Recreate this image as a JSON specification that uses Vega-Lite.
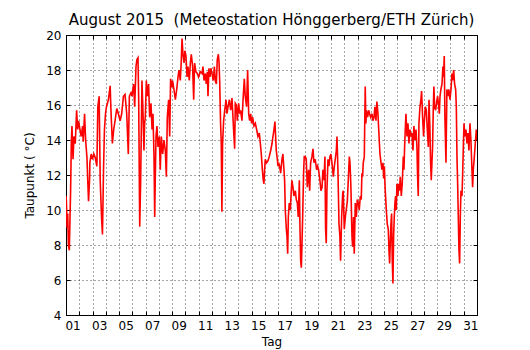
{
  "$schema": "https://vega.github.io/schema/vega-lite/v6.json",
  "autosize": "none",
  "width": 411,
  "height": 280,
  "padding": {"left": 66, "top": 35, "right": 53, "bottom": 35},
  "background": "white",
  "config": {
    "view": {"stroke": "#000", "strokeWidth": 1},
    "font": "DejaVu Sans",
    "axis": {"labelFont": "DejaVu Sans", "titleFont": "DejaVu Sans", "labelColor": "#000", "titleColor": "#000", "tickColor": "#000", "domain": false, "titleFontWeight": "normal"}
  },
  "title": {"text": "August 2015 \u00a0(Meteostation Hönggerberg/ETH Zürich)", "font": "DejaVu Sans", "fontSize": 15, "fontWeight": "normal", "color": "#000", "anchor": "middle", "offset": 1},
  "data": {"values": [
    {"d":1.0,"v":10.8},{"d":1.03,"v":10.5},{"d":1.08,"v":9.0},{"d":1.13,"v":9.8},{"d":1.18,"v":8.0},{"d":1.25,"v":7.7},{"d":1.30,"v":9.5},{"d":1.35,"v":11.2},{"d":1.40,"v":13.8},{"d":1.45,"v":14.8},{"d":1.53,"v":12.9},{"d":1.60,"v":14.2},{"d":1.70,"v":13.8},{"d":1.80,"v":15.7},{"d":1.88,"v":14.6},{"d":1.95,"v":15.1},{"d":2.05,"v":14.6},
    {"d":2.15,"v":14.2},{"d":2.25,"v":14.8},{"d":2.30,"v":13.9},{"d":2.40,"v":15.5},{"d":2.48,"v":14.0},{"d":2.58,"v":13.0},{"d":2.65,"v":11.5},{"d":2.70,"v":10.5},{"d":2.78,"v":11.8},{"d":2.80,"v":12.7},{"d":2.90,"v":13.2},{"d":3.00,"v":12.9},
    {"d":3.10,"v":13.2},{"d":3.20,"v":13.0},{"d":3.33,"v":12.5},{"d":3.40,"v":15.9},{"d":3.50,"v":16.5},{"d":3.58,"v":11.7},{"d":3.68,"v":9.6},{"d":3.75,"v":8.6},{"d":3.83,"v":12.3},{"d":3.90,"v":14.6},{"d":3.98,"v":15.5},
    {"d":4.05,"v":15.9},{"d":4.20,"v":16.3},{"d":4.33,"v":17.1},{"d":4.40,"v":15.5},{"d":4.50,"v":13.8},{"d":4.60,"v":14.6},{"d":4.70,"v":15.1},{"d":4.83,"v":15.8},{"d":4.95,"v":15.5},
    {"d":5.08,"v":15.1},{"d":5.20,"v":15.5},{"d":5.33,"v":16.5},{"d":5.45,"v":16.6},{"d":5.58,"v":15.5},{"d":5.70,"v":13.2},{"d":5.78,"v":16.5},{"d":5.90,"v":16.7},{"d":5.98,"v":16.5},
    {"d":6.10,"v":17.2},{"d":6.18,"v":15.9},{"d":6.28,"v":18.2},{"d":6.35,"v":18.6},{"d":6.43,"v":18.7},{"d":6.48,"v":16.5},{"d":6.56,"v":9.05},{"d":6.63,"v":11.7},{"d":6.73,"v":17.4},{"d":6.81,"v":15.5},{"d":6.88,"v":13.4},{"d":6.93,"v":14.95},{"d":6.98,"v":15.3},
    {"d":7.06,"v":17.4},{"d":7.13,"v":16.5},{"d":7.23,"v":17.2},{"d":7.31,"v":15.3},{"d":7.41,"v":16.1},{"d":7.49,"v":14.6},{"d":7.56,"v":15.5},{"d":7.64,"v":13.0},{"d":7.69,"v":9.6},{"d":7.74,"v":12.1},{"d":7.79,"v":14.2},{"d":7.86,"v":14.8},{"d":7.94,"v":13.6},
    {"d":8.04,"v":14.2},{"d":8.11,"v":12.3},{"d":8.19,"v":14.2},{"d":8.29,"v":13.2},{"d":8.39,"v":14.0},{"d":8.49,"v":13.4},{"d":8.57,"v":11.9},{"d":8.64,"v":15.3},{"d":8.74,"v":16.3},{"d":8.82,"v":14.2},{"d":8.89,"v":17.5},{"d":8.97,"v":17.0},
    {"d":9.04,"v":17.4},{"d":9.14,"v":16.9},{"d":9.25,"v":16.3},{"d":9.35,"v":16.9},{"d":9.45,"v":17.6},{"d":9.52,"v":18.0},{"d":9.62,"v":17.4},{"d":9.70,"v":18.6},{"d":9.75,"v":19.8},{"d":9.82,"v":18.95},{"d":9.90,"v":18.4},{"d":9.97,"v":19.1},
    {"d":10.05,"v":18.8},{"d":10.13,"v":17.6},{"d":10.20,"v":18.2},{"d":10.30,"v":17.4},{"d":10.38,"v":18.4},{"d":10.45,"v":18.9},{"d":10.55,"v":18.2},{"d":10.63,"v":16.3},{"d":10.70,"v":18.4},{"d":10.80,"v":17.9},{"d":10.90,"v":17.8},{"d":11.0,"v":17.6},
    {"d":11.13,"v":17.9},{"d":11.26,"v":17.8},{"d":11.33,"v":18.2},{"d":11.41,"v":17.4},{"d":11.51,"v":17.8},{"d":11.58,"v":17.2},{"d":11.66,"v":17.9},{"d":11.71,"v":16.5},{"d":11.78,"v":18.1},{"d":11.86,"v":17.6},{"d":11.93,"v":18.1},
    {"d":12.01,"v":17.8},{"d":12.11,"v":17.4},{"d":12.19,"v":18.2},{"d":12.26,"v":17.4},{"d":12.34,"v":17.2},{"d":12.41,"v":18.6},{"d":12.49,"v":18.9},{"d":12.54,"v":18.5},{"d":12.59,"v":17.4},{"d":12.66,"v":14.95},{"d":12.71,"v":13.8},{"d":12.76,"v":9.9},{"d":12.81,"v":13.8},{"d":12.89,"v":15.1},{"d":12.97,"v":15.7},
    {"d":13.07,"v":16.3},{"d":13.14,"v":15.5},{"d":13.22,"v":15.9},{"d":13.32,"v":16.3},{"d":13.42,"v":15.7},{"d":13.52,"v":16.4},{"d":13.64,"v":14.6},{"d":13.72,"v":13.5},{"d":13.77,"v":16.1},{"d":13.85,"v":16.0},{"d":13.92,"v":15.1},
    {"d":14.02,"v":16.1},{"d":14.10,"v":15.5},{"d":14.17,"v":15.7},{"d":14.27,"v":15.1},{"d":14.37,"v":16.5},{"d":14.45,"v":17.5},{"d":14.52,"v":16.5},{"d":14.62,"v":15.9},{"d":14.70,"v":18.0},{"d":14.78,"v":15.5},{"d":14.85,"v":15.1},{"d":14.93,"v":15.5},{"d":15.0,"v":14.95},
    {"d":15.08,"v":15.3},{"d":15.18,"v":14.8},{"d":15.28,"v":14.95},{"d":15.38,"v":14.6},{"d":15.48,"v":14.2},{"d":15.58,"v":14.4},{"d":15.66,"v":13.8},{"d":15.73,"v":13.2},{"d":15.81,"v":12.3},{"d":15.88,"v":11.7},{"d":15.93,"v":11.5},{"d":15.98,"v":12.3},
    {"d":16.03,"v":12.9},{"d":16.13,"v":12.7},{"d":16.23,"v":12.8},{"d":16.33,"v":13.05},{"d":16.44,"v":13.4},{"d":16.54,"v":13.8},{"d":16.61,"v":14.2},{"d":16.69,"v":14.6},{"d":16.76,"v":15.05},{"d":16.81,"v":14.2},{"d":16.86,"v":13.4},{"d":16.94,"v":12.9},{"d":16.99,"v":12.5},
    {"d":17.04,"v":12.7},{"d":17.11,"v":12.5},{"d":17.19,"v":12.1},{"d":17.29,"v":12.9},{"d":17.36,"v":13.2},{"d":17.44,"v":12.3},{"d":17.49,"v":11.7},{"d":17.54,"v":10.0},{"d":17.62,"v":8.9},{"d":17.67,"v":8.5},{"d":17.72,"v":7.5},{"d":17.77,"v":9.6},{"d":17.84,"v":10.4},{"d":17.92,"v":10.0},{"d":17.97,"v":10.8},
    {"d":18.04,"v":11.7},{"d":18.12,"v":11.3},{"d":18.19,"v":10.8},{"d":18.30,"v":11.1},{"d":18.37,"v":10.6},{"d":18.45,"v":10.4},{"d":18.52,"v":9.6},{"d":18.60,"v":11.7},{"d":18.65,"v":8.9},{"d":18.70,"v":7.1},{"d":18.75,"v":6.7},{"d":18.80,"v":8.1},{"d":18.85,"v":9.6},{"d":18.92,"v":12.1},{"d":18.97,"v":13.05},
    {"d":19.05,"v":13.05},{"d":19.12,"v":12.9},{"d":19.20,"v":11.3},{"d":19.30,"v":12.3},{"d":19.38,"v":11.1},{"d":19.45,"v":12.7},{"d":19.55,"v":13.05},{"d":19.63,"v":13.5},{"d":19.70,"v":12.7},{"d":19.80,"v":12.9},{"d":19.90,"v":12.3},{"d":19.98,"v":12.5},
    {"d":20.05,"v":12.3},{"d":20.15,"v":11.7},{"d":20.23,"v":11.1},{"d":20.31,"v":11.3},{"d":20.38,"v":12.3},{"d":20.46,"v":11.7},{"d":20.53,"v":13.05},{"d":20.58,"v":8.9},{"d":20.63,"v":8.1},{"d":20.68,"v":11.1},{"d":20.76,"v":12.9},{"d":20.83,"v":12.5},{"d":20.91,"v":13.05},{"d":20.98,"v":13.2},
    {"d":21.06,"v":12.7},{"d":21.16,"v":11.9},{"d":21.24,"v":12.5},{"d":21.31,"v":12.9},{"d":21.39,"v":13.4},{"d":21.44,"v":14.2},{"d":21.51,"v":12.3},{"d":21.59,"v":9.2},{"d":21.66,"v":8.5},{"d":21.71,"v":7.1},{"d":21.79,"v":9.6},{"d":21.87,"v":10.95},{"d":21.91,"v":11.1},{"d":21.99,"v":8.9},
    {"d":22.07,"v":9.6},{"d":22.22,"v":10.5},{"d":22.37,"v":13.05},{"d":22.42,"v":12.7},{"d":22.49,"v":11.3},{"d":22.57,"v":8.5},{"d":22.62,"v":7.9},{"d":22.69,"v":9.6},{"d":22.74,"v":7.5},{"d":22.82,"v":10.4},{"d":22.90,"v":9.6},{"d":22.97,"v":10.6},
    {"d":23.05,"v":10.4},{"d":23.12,"v":10.0},{"d":23.20,"v":10.8},{"d":23.27,"v":10.6},{"d":23.32,"v":12.1},{"d":23.37,"v":11.9},{"d":23.42,"v":12.7},{"d":23.50,"v":13.05},{"d":23.57,"v":17.05},{"d":23.62,"v":14.95},{"d":23.67,"v":15.7},{"d":23.75,"v":15.3},{"d":23.83,"v":15.7},{"d":23.90,"v":15.5},{"d":23.98,"v":15.3},
    {"d":24.08,"v":15.5},{"d":24.15,"v":15.1},{"d":24.23,"v":15.3},{"d":24.30,"v":15.9},{"d":24.38,"v":15.1},{"d":24.45,"v":16.2},{"d":24.53,"v":15.5},{"d":24.60,"v":14.4},{"d":24.68,"v":13.2},{"d":24.76,"v":12.7},{"d":24.83,"v":12.3},{"d":24.91,"v":12.7},{"d":24.96,"v":11.8},{"d":25.01,"v":12.5},
    {"d":25.08,"v":11.1},{"d":25.16,"v":10.0},{"d":25.23,"v":9.2},{"d":25.31,"v":8.9},{"d":25.36,"v":7.7},{"d":25.41,"v":6.95},{"d":25.46,"v":8.1},{"d":25.51,"v":9.2},{"d":25.56,"v":9.8},{"d":25.61,"v":7.1},{"d":25.66,"v":5.8},{"d":25.71,"v":8.5},{"d":25.76,"v":9.6},{"d":25.81,"v":10.4},{"d":25.86,"v":10.8},{"d":25.91,"v":10.0},{"d":25.96,"v":11.5},
    {"d":26.04,"v":10.8},{"d":26.09,"v":11.5},{"d":26.16,"v":11.1},{"d":26.21,"v":11.9},{"d":26.29,"v":10.8},{"d":26.36,"v":11.5},{"d":26.44,"v":13.05},{"d":26.49,"v":12.3},{"d":26.54,"v":13.6},{"d":26.59,"v":14.6},{"d":26.64,"v":15.5},{"d":26.72,"v":14.2},{"d":26.79,"v":14.95},{"d":26.87,"v":13.8},{"d":26.94,"v":14.6},
    {"d":27.02,"v":14.2},{"d":27.09,"v":14.4},{"d":27.17,"v":13.4},{"d":27.24,"v":14.8},{"d":27.32,"v":14.0},{"d":27.40,"v":14.6},{"d":27.47,"v":13.6},{"d":27.52,"v":11.9},{"d":27.57,"v":10.8},{"d":27.62,"v":14.95},{"d":27.70,"v":15.9},{"d":27.77,"v":16.3},{"d":27.82,"v":16.8},{"d":27.90,"v":15.3},{"d":27.97,"v":14.2},
    {"d":28.02,"v":14.95},{"d":28.10,"v":15.9},{"d":28.18,"v":15.7},{"d":28.25,"v":14.6},{"d":28.33,"v":13.6},{"d":28.38,"v":16.3},{"d":28.45,"v":14.6},{"d":28.50,"v":12.7},{"d":28.55,"v":11.7},{"d":28.60,"v":12.7},{"d":28.65,"v":13.6},{"d":28.70,"v":15.7},{"d":28.75,"v":17.05},{"d":28.80,"v":15.9},{"d":28.88,"v":15.7},{"d":28.96,"v":16.2},
    {"d":29.03,"v":16.5},{"d":29.11,"v":15.9},{"d":29.16,"v":15.5},{"d":29.21,"v":16.5},{"d":29.28,"v":16.9},{"d":29.36,"v":17.2},{"d":29.43,"v":18.2},{"d":29.48,"v":17.6},{"d":29.53,"v":18.8},{"d":29.58,"v":15.3},{"d":29.66,"v":12.7},{"d":29.73,"v":16.9},{"d":29.81,"v":16.5},{"d":29.88,"v":16.9},{"d":29.96,"v":16.3},
    {"d":30.04,"v":16.9},{"d":30.11,"v":17.8},{"d":30.16,"v":17.4},{"d":30.24,"v":18.0},{"d":30.31,"v":17.2},{"d":30.39,"v":16.9},{"d":30.44,"v":15.9},{"d":30.49,"v":13.05},{"d":30.54,"v":11.5},{"d":30.59,"v":9.6},{"d":30.64,"v":7.7},{"d":30.69,"v":6.95},{"d":30.74,"v":9.6},{"d":30.79,"v":11.1},{"d":30.87,"v":10.8},{"d":30.92,"v":12.1},{"d":30.97,"v":13.6},
    {"d":31.02,"v":14.95},{"d":31.09,"v":14.2},{"d":31.17,"v":14.6},{"d":31.24,"v":13.8},{"d":31.32,"v":14.4},{"d":31.39,"v":13.4},{"d":31.47,"v":14.95},{"d":31.54,"v":14.0},{"d":31.62,"v":12.3},{"d":31.67,"v":11.3},{"d":31.72,"v":12.3},{"d":31.80,"v":13.05},{"d":31.87,"v":13.8},{"d":31.95,"v":14.6},{"d":32.0,"v":14.0}
  ]},
  "layer": [
    {
      "mark": {"type": "line", "color": "#ff0000", "strokeWidth": 1.6, "clip": true},
      "encoding": {
        "x": {"field": "d", "type": "quantitative", "scale": {"domain": [1, 32], "nice": false, "zero": false},
          "axis": {"orient": "bottom", "title": "Tag", "titleFontSize": 12, "titlePadding": 5, "labelFontSize": 12,
            "values": [1,2,3,4,5,6,7,8,9,10,11,12,13,14,15,16,17,18,19,20,21,22,23,24,25,26,27,28,29,30,31,32],
            "labelExpr": "datum.value % 2 == 1 && datum.value < 32 ? (datum.value < 10 ? '0' + datum.value : '' + datum.value) : ''",
            "labelOffset": 6.63, "labelOverlap": false, "labelFlush": false, "labelBound": false,
            "tickSize": -4, "labelPadding": 9, "grid": true, "gridColor": "#000", "gridDash": [1, 3], "gridOpacity": 0.7}},
        "y": {"field": "v", "type": "quantitative", "scale": {"domain": [4, 20], "nice": false, "zero": false},
          "axis": {"orient": "left", "title": "Taupunkt ( °C)", "titleFontSize": 12, "titlePadding": 9, "labelFontSize": 12,
            "values": [4,6,8,10,12,14,16,18,20], "labelFlush": false, "labelBound": false, "labelOverlap": false,
            "tickSize": -4, "labelPadding": 9, "grid": true, "gridColor": "#000", "gridDash": [1, 3], "gridOpacity": 0.7}}
      }
    },
    {
      "mark": {"type": "line", "strokeOpacity": 0},
      "encoding": {
        "x": {"field": "d", "type": "quantitative",
          "axis": {"orient": "top", "title": null, "labels": false, "grid": false, "tickSize": -4,
            "values": [1,2,3,4,5,6,7,8,9,10,11,12,13,14,15,16,17,18,19,20,21,22,23,24,25,26,27,28,29,30,31,32]}},
        "y": {"field": "v", "type": "quantitative",
          "axis": {"orient": "right", "title": null, "labels": false, "grid": false, "tickSize": -4, "values": [4,6,8,10,12,14,16,18,20]}}
      }
    }
  ],
  "resolve": {"axis": {"x": "independent", "y": "independent"}}
}
